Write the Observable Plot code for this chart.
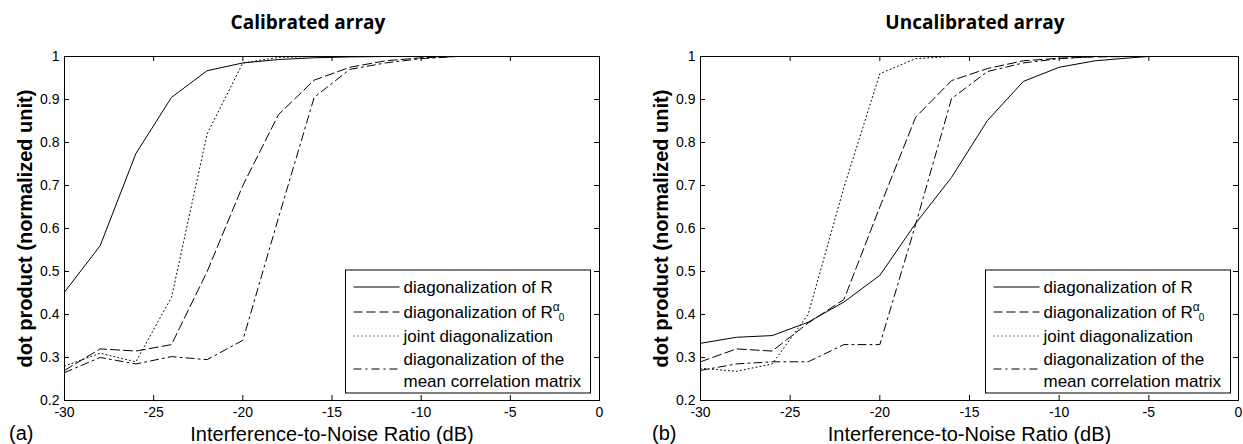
<!DOCTYPE html>
<html><head><meta charset="utf-8">
<script src="https://cdn.jsdelivr.net/npm/d3@7"></script>
<script src="https://cdn.jsdelivr.net/npm/@observablehq/plot@0.6"></script>
<style>
body{margin:0;background:#fff;}
#wrap{position:relative;width:1243px;height:444px;overflow:hidden;background:#fff;}
#wrap > svg{position:absolute;top:0;}
g[aria-label="x-axis label"]{font-size:20px;}
g[aria-label="y-axis label"]{font-size:20px;font-weight:bold;}
#overlay{left:0;top:0;pointer-events:none;}
</style></head><body><div id="wrap"></div>
<script>
// ---- data ----
const snrCal = [-30,-28,-26,-24,-22,-20,-18,-16,-14,-12,-10,-8,-7];
const calDiagR     = [0.452,0.560,0.774,0.905,0.967,0.985,0.993,0.997,0.999,1.000,1.000,1.000,1.000];
const calDiagRa0   = [0.270,0.320,0.315,0.330,0.500,0.700,0.865,0.945,0.975,0.990,0.997,1.000,1.000];
const calJoint     = [0.280,0.310,0.290,0.440,0.820,0.985,0.998,1.000,1.000,1.000,1.000,1.000,1.000];
const calMeanCorr  = [0.265,0.300,0.285,0.302,0.295,0.340,0.625,0.905,0.970,0.985,0.995,1.000,1.000];

const snrUncal = [-30,-28,-26,-24,-22,-20,-18,-16,-14,-12,-10,-8,-6,-5];
const uncalDiagR    = [0.333,0.347,0.351,0.382,0.429,0.491,0.612,0.719,0.851,0.942,0.975,0.990,0.997,1.000];
const uncalDiagRa0  = [0.290,0.320,0.315,0.380,0.435,0.650,0.859,0.944,0.972,0.990,0.996,0.999,1.000,1.000];
const uncalJoint    = [0.275,0.268,0.285,0.400,0.696,0.960,0.995,1.000,1.000,1.000,1.000,1.000,1.000,1.000];
const uncalMeanCorr = [0.270,0.285,0.290,0.290,0.330,0.330,0.610,0.902,0.965,0.985,0.995,1.000,1.000,1.000];

const seriesNames = ["diagonalization of R","diagonalization of R","joint diagonalization","diagonalization of the|mean correlation matrix"];
const panelTitles = ["Calibrated array","Uncalibrated array"];
const panelTags = ["(a)","(b)"];
const xTicks = [-30,-25,-20,-15,-10,-5,0];
const yTicks = [0.2,0.3,0.4,0.5,0.6,0.7,0.8,0.9,1];
const xLabel = "Interference-to-Noise Ratio (dB)";
const yLabel = "dot product (normalized unit)";

// ---- styles ----
const dashes = [undefined,"9,4","1,3","8,4,2,4"];
const FONT = "'Liberation Sans', Arial, sans-serif";

function makePanel(xs, lists, width, marginLeft, marginRight) {
  const H = 444, mt = 56, mb = 44;
  const ph = H - mt - mb, pw = width - marginLeft - marginRight;
  const marks = [Plot.frame({stroke:"black", strokeWidth:1})];
  marks.push(Plot.tickX(xTicks, {x:d=>d, insetTop:ph-5, stroke:"black"}));
  marks.push(Plot.tickX(xTicks, {x:d=>d, insetBottom:ph-5, stroke:"black"}));
  marks.push(Plot.tickY(yTicks, {y:d=>d, insetRight:pw-5, stroke:"black"}));
  marks.push(Plot.tickY(yTicks, {y:d=>d, insetLeft:pw-5, stroke:"black"}));
  lists.forEach((vals,k) => {
    const data = xs.map((x,i)=>({x, y:vals[i]}));
    marks.push(Plot.line(data, {x:"x", y:"y", stroke:"black", strokeWidth:1, strokeDasharray:dashes[k]}));
  });
  marks.push(Plot.axisX({ticks:xTicks, tickSize:0, tickPadding:7, tickFormat:d=>String(d), fontSize:14,
    label:xLabel, labelAnchor:"center", labelOffset:40, labelArrow:"none"}));
  marks.push(Plot.axisY({ticks:yTicks, tickSize:0, tickPadding:5, tickFormat:d=>d===1?"1":d.toFixed(1), fontSize:14,
    label:yLabel, labelAnchor:"center", labelOffset:47, labelArrow:"none"}));
  const svg = Plot.plot({width, height:H, marginTop:mt, marginBottom:mb, marginLeft, marginRight,
    x:{domain:[-30,0]}, y:{domain:[0.2,1]},
    style:{fontFamily:FONT, fontSize:"14px", color:"black", background:"transparent", overflow:"visible"},
    marks});
  return svg;
}

const wrap = document.getElementById("wrap");
const left = makePanel(snrCal, [calDiagR, calDiagRa0, calJoint, calMeanCorr], 620, 64, 21);
left.style.left = "0px";
wrap.appendChild(left);
const right = makePanel(snrUncal, [uncalDiagR, uncalDiagRa0, uncalJoint, uncalMeanCorr], 623, 80, 5);
right.style.left = "620px";
wrap.appendChild(right);

// ---- overlay: titles, tags, legends ----
function legendMarkup(x0, y0) {
  const w = 245, h = 123;
  let s = `<rect x="${x0}" y="${y0}" width="${w}" height="${h}" fill="white" stroke="black" stroke-width="1"/>`;
  const sampleY = [17, 42, 66, 99];
  const textY = [[23],[48],[72],[95,117]];
  seriesNames.forEach((name,k) => {
    const ly = y0 + sampleY[k];
    s += `<line x1="${x0+8}" x2="${x0+54}" y1="${ly}" y2="${ly}" stroke="black" stroke-width="1" ${dashes[k]?`stroke-dasharray="${dashes[k]}"`:""}/>`;
    const parts = name.split("|");
    parts.forEach((p,j) => {
      let extra = "";
      if (k === 1) extra = `<tspan font-size="12" dy="-7">α</tspan><tspan font-size="10" dy="10" dx="-1">0</tspan>`;
      s += `<text x="${x0+58}" y="${y0+textY[k][j]}" font-family="${FONT}" font-size="17">${p}${extra}</text>`;
    });
  });
  return s;
}
const ov = `<svg id="overlay" width="1243" height="444" xmlns="http://www.w3.org/2000/svg">
<text x="308" y="29" text-anchor="middle" font-family="'Open Sans', sans-serif" font-weight="700" font-size="19">${panelTitles[0]}</text>
<text x="975" y="29" text-anchor="middle" font-family="'Open Sans', sans-serif" font-weight="700" font-size="19">${panelTitles[1]}</text>
<text x="9" y="440" font-family="${FONT}" font-size="20">${panelTags[0]}</text>
<text x="652" y="440" font-family="${FONT}" font-size="20">${panelTags[1]}</text>
${legendMarkup(345.5, 270)}
${legendMarkup(985.5, 270)}
</svg>`;
wrap.insertAdjacentHTML("beforeend", ov);
</script></body></html>
